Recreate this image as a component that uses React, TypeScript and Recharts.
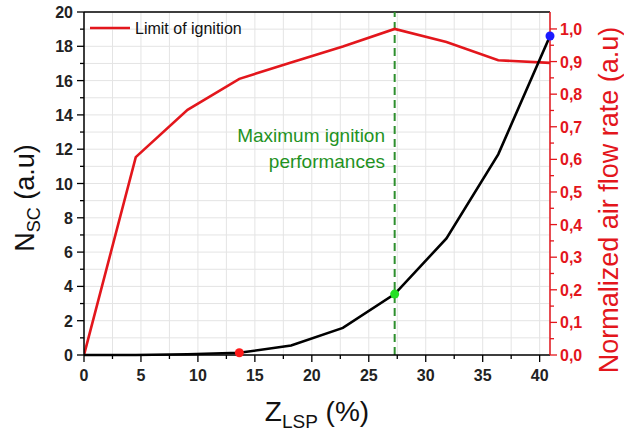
import React from "react";
import {
  ComposedChart,
  Line,
  XAxis,
  YAxis,
  CartesianGrid,
  ReferenceLine,
  ReferenceDot,
} from "recharts";

const zlsp = [0, 4.545, 9.091, 13.636, 18.182, 22.727, 27.273, 31.818, 36.364, 40.909];
const nsc = [0, 0.0, 0.04, 0.13, 0.55, 1.58, 3.55, 6.8, 11.7, 18.6];
const airflow = [0, 0.607, 0.752, 0.847, 0.897, 0.946, 1.0, 0.96, 0.904, 0.896];

const xTicks = [0, 2.5, 5, 7.5, 10, 12.5, 15, 17.5, 20, 22.5, 25, 27.5, 30, 32.5, 35, 37.5, 40];
const leftTicks = [0, 1, 2, 3, 4, 5, 6, 7, 8, 9, 10, 11, 12, 13, 14, 15, 16, 17, 18, 19, 20];
const rightTicks = [
  0, 0.05, 0.1, 0.15, 0.2, 0.25, 0.3, 0.35, 0.4, 0.45, 0.5, 0.55, 0.6, 0.65, 0.7, 0.75, 0.8,
  0.85, 0.9, 0.95, 1.0,
];

const markerIdx = [3, 6, 9];
const markerColors = ["#ff1a1a", "#22e022", "#1a1aff"];
const maxIgnitionX = zlsp[6];

const data = zlsp.map((x, i) => ({ x, nsc: nsc[i], air: airflow[i] }));

const FONT = "'Liberation Sans', Arial, sans-serif";
const RED = "#e3161c";
const GREEN = "#1f921f";

const isMajor = (v: number, step: number) => Math.abs(v / step - Math.round(v / step)) < 1e-6;

const XTick = (props: any) => {
  const { x, y, payload } = props;
  const major = isMajor(payload.value, 5);
  return (
    <g>
      <line x1={x} y1={y} x2={x} y2={y + (major ? 7 : 4)} stroke="#000" strokeWidth={1.3} />
      {major && (
        <text x={x} y={y + 26} textAnchor="middle" fontFamily={FONT} fontWeight="bold" fontSize={16} fill="#222">
          {payload.value}
        </text>
      )}
    </g>
  );
};

const LTick = (props: any) => {
  const { x, y, payload } = props;
  const major = isMajor(payload.value, 2);
  return (
    <g>
      <line x1={x} y1={y} x2={x - (major ? 7 : 4)} y2={y} stroke="#000" strokeWidth={1.3} />
      {major && (
        <text x={x - 11} y={y + 6} textAnchor="end" fontFamily={FONT} fontWeight="bold" fontSize={16} fill="#222">
          {payload.value}
        </text>
      )}
    </g>
  );
};

const RTick = (props: any) => {
  const { x, y, payload } = props;
  const major = isMajor(payload.value, 0.1);
  return (
    <g>
      <line x1={x} y1={y} x2={x + (major ? 7 : 4)} y2={y} stroke={RED} strokeWidth={1.3} />
      {major && (
        <text x={x + 10} y={y + 6} textAnchor="start" fontFamily={FONT} fontWeight="bold" fontSize={16} fill={RED}>
          {payload.value.toFixed(1).replace(".", ",")}
        </text>
      )}
    </g>
  );
};

export default function App() {
  return (
    <div style={{ position: "absolute", left: 0, top: 0, width: 624, height: 434, background: "#fff" }}>
      <ComposedChart
        width={624}
        height={434}
        data={data}
        margin={{ top: 12, right: 14, bottom: 19, left: 24 }}
      >
        <CartesianGrid stroke="#e4e4e4" strokeWidth={1} yAxisId="left" />
        <XAxis
          dataKey="x"
          type="number"
          domain={[0, 40.909]}
          ticks={xTicks}
          interval={0}
          tickSize={0}
          tickMargin={0}
          tickLine={false}
          tick={<XTick />}
          height={60}
          axisLine={{ stroke: "#000", strokeWidth: 1.5 }}
          allowDataOverflow
        />
        <YAxis
          yAxisId="left"
          orientation="left"
          type="number"
          domain={[0, 20]}
          ticks={leftTicks}
          interval={0}
          tickSize={0}
          tickMargin={0}
          tickLine={false}
          tick={<LTick />}
          width={60}
          axisLine={{ stroke: "#000", strokeWidth: 1.5 }}
        />
        <YAxis
          yAxisId="right"
          orientation="right"
          type="number"
          domain={[0, 1.052]}
          ticks={rightTicks}
          interval={0}
          tickSize={0}
          tickMargin={0}
          tickLine={false}
          tick={<RTick />}
          width={60}
          axisLine={{ stroke: RED, strokeWidth: 1.5 }}
          allowDataOverflow
        />
        <ReferenceLine yAxisId="left" y={20} stroke="#000" strokeWidth={1.5} ifOverflow="visible" />
        <ReferenceLine
          yAxisId="left"
          x={maxIgnitionX}
          stroke="#2e8f2e"
          strokeWidth={2}
          strokeDasharray="8 5"
        />
        <Line
          yAxisId="right"
          dataKey="air"
          stroke={RED}
          strokeWidth={2.6}
          dot={false}
          isAnimationActive={false}
          type="linear"
        />
        <Line
          yAxisId="left"
          dataKey="nsc"
          stroke="#000"
          strokeWidth={2.6}
          dot={false}
          isAnimationActive={false}
          type="linear"
        />
        {markerIdx.map((idx, k) => (
          <ReferenceDot
            key={idx}
            yAxisId="left"
            x={zlsp[idx]}
            y={nsc[idx]}
            r={4.5}
            fill={markerColors[k]}
            stroke="none"
            ifOverflow="visible"
          />
        ))}
      </ComposedChart>
      <svg
        width={624}
        height={434}
        style={{ position: "absolute", left: 0, top: 0, pointerEvents: "none" }}
      >
        <line x1={90} y1={28} x2={130} y2={28} stroke={RED} strokeWidth={2.6} />
        <text x={135} y={34} fontFamily={FONT} fontSize={16} fill="#111">
          Limit of ignition
        </text>
        <text x={385} y={142} textAnchor="end" fontFamily={FONT} fontSize={19} fill={GREEN}>
          Maximum ignition
        </text>
        <text x={385} y={168} textAnchor="end" fontFamily={FONT} fontSize={19} fill={GREEN}>
          performances
        </text>
        <text x={317} y={421} textAnchor="middle" fontFamily={FONT} fontSize={28} fill="#111">
          Z<tspan fontSize={19} dy={7}>LSP</tspan>
          <tspan dy={-7}> (%)</tspan>
        </text>
        <text
          transform="translate(34,198) rotate(-90)"
          textAnchor="middle"
          fontFamily={FONT}
          fontSize={27}
          fill="#111"
        >
          N<tspan fontSize={18} dy={6}>SC</tspan>
          <tspan dy={-6}> (a.u)</tspan>
        </text>
        <text
          transform="translate(618,200) rotate(-90)"
          textAnchor="middle"
          fontFamily={FONT}
          fontSize={27}
          fill={RED}
        >
          Normalized air flow rate (a.u)
        </text>
      </svg>
    </div>
  );
}
